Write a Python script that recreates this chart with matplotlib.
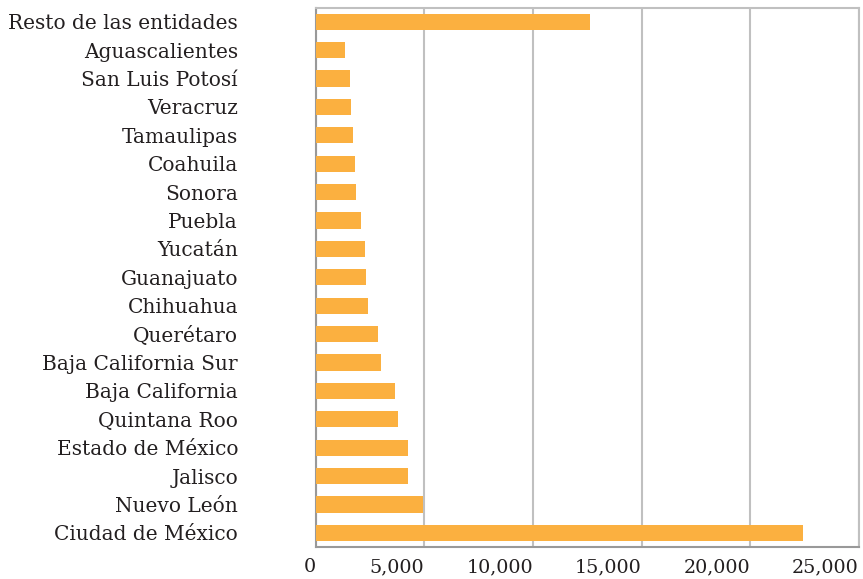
import matplotlib.pyplot as plt
from matplotlib.ticker import FuncFormatter

estados = [
    "Ciudad de México", "Nuevo León", "Jalisco", "Estado de México",
    "Quintana Roo", "Baja California", "Baja California Sur", "Querétaro",
    "Chihuahua", "Guanajuato", "Yucatán", "Puebla", "Sonora", "Coahuila",
    "Tamaulipas", "Veracruz", "San Luis Potosí", "Aguascalientes",
    "Resto de las entidades",
]
valores = [
    22430, 4930, 4250, 4250, 3780, 3640, 3000, 2870, 2410, 2330, 2260,
    2060, 1860, 1810, 1700, 1600, 1570, 1350, 12630,
]
xticks = [0, 5000, 10000, 15000, 20000, 25000]

plt.rcParams["font.family"] = ["DejaVu Serif"]

fig = plt.figure(figsize=(8.63, 5.79), dpi=100)
ax = fig.add_axes([0.366, 0.055, 0.629, 0.932])

ax.barh(range(len(estados)), valores, height=0.57, color="#FBB040", zorder=3)
ax.set_ylim(-0.5, len(estados) - 0.5)
ax.set_xlim(0, 25000)
ax.set_xticks(xticks)
ax.xaxis.set_major_formatter(FuncFormatter(lambda v, p: f"{int(v):,}"))
ax.set_yticks(range(len(estados)))
ax.set_yticklabels(estados)

ax.grid(axis="x", color="#c0c0c0", linewidth=1.5, zorder=0)
for side in ["top", "right", "bottom"]:
    ax.spines[side].set_color("#c0c0c0")
    ax.spines[side].set_linewidth(1.5)
ax.spines["left"].set_color("#999999")
ax.spines["left"].set_linewidth(1.5)
ax.spines["bottom"].set_color("#999999")

ax.tick_params(axis="both", length=0, colors="#231f20")
ax.tick_params(axis="y", pad=56, labelsize=14.5)
ax.tick_params(axis="x", pad=8, labelsize=13.8)
for lbl in ax.get_xticklabels():
    lbl.set_horizontalalignment("right")

fig.savefig("out.png", dpi=100)
